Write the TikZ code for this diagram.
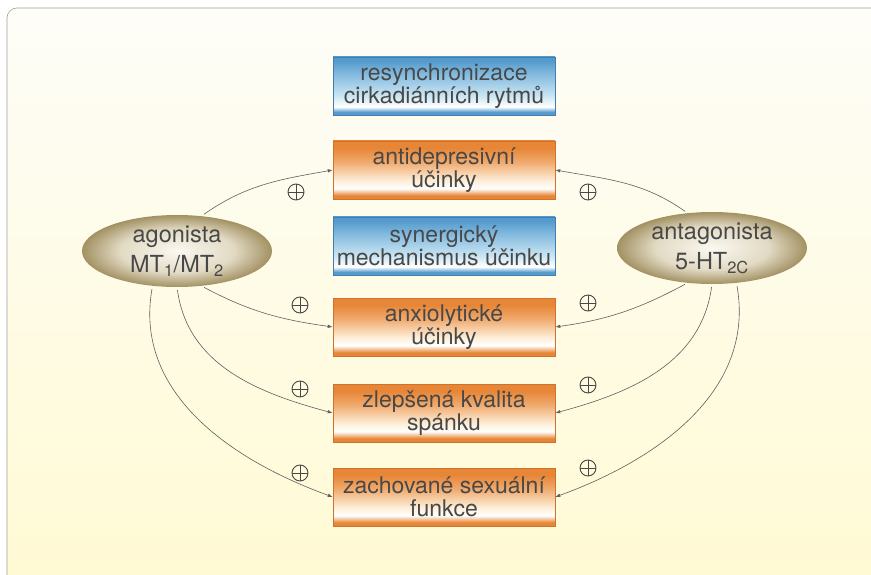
\documentclass[tikz,border=0pt]{standalone}
\usepackage{fontspec}
\setmainfont{TeX Gyre Heros}
\usetikzlibrary{arrows.meta,shapes.geometric}

\definecolor{boxorange}{RGB}{231,134,54}
\definecolor{boxorangemid}{RGB}{240,170,110}
\definecolor{boxpale}{RGB}{253,238,215}
\definecolor{orangeedge}{RGB}{205,115,45}
\definecolor{boxblue}{RGB}{84,154,204}
\definecolor{boxbluemid}{RGB}{140,192,226}
\definecolor{boxlightblue}{RGB}{200,228,242}
\definecolor{blueedge}{RGB}{65,125,175}
\definecolor{ovaldark}{RGB}{162,145,98}
\definecolor{ovalmid}{RGB}{226,218,196}
\definecolor{ovallight}{RGB}{250,248,240}
\definecolor{textgray}{RGB}{72,72,72}
\definecolor{linegray}{RGB}{95,95,95}
\definecolor{bgtop}{RGB}{254,253,248}
\definecolor{bgbottom}{RGB}{255,250,212}
\definecolor{framegray}{RGB}{160,160,160}

\pgfdeclareverticalshading{orangefill}{100bp}{color(0bp)=(boxorange); color(28bp)=(boxorange); color(34bp)=(white); color(41bp)=(boxpale); color(57bp)=(boxorangemid); color(69bp)=(boxorange); color(100bp)=(boxorange)}
\pgfdeclareverticalshading{bluefill}{100bp}{color(0bp)=(boxblue); color(27.5bp)=(boxblue); color(32bp)=(white); color(42bp)=(boxlightblue); color(58bp)=(boxbluemid); color(72bp)=(boxblue); color(100bp)=(boxblue)}
\pgfdeclareradialshading{ovalfill}{\pgfpoint{0bp}{0bp}}{color(0bp)=(ovallight); color(15bp)=(ovalmid); color(25bp)=(ovaldark); color(50bp)=(ovaldark)}

\begin{document}
\begin{tikzpicture}
        [x=1pt, y=-1pt,
        effect/.style={shade, shading=orangefill, draw=orangeedge, line width=0.5pt,
          minimum width=222pt, minimum height=58pt, inner sep=0pt, align=center,
          font=\fontsize{23}{23}\selectfont, text=textgray},
        synergy/.style={effect, shading=bluefill, draw=blueedge},
        drug/.style={ellipse, shade, shading=ovalfill, minimum width=190pt, minimum height=72pt,
          inner sep=0pt, align=center, font=\fontsize{23.5}{30}\selectfont, text=textgray},
        plus/.style={circle, draw=textgray, line width=0.9pt, minimum size=16pt, inner sep=0pt,
          path picture={\draw[textgray, line width=0.9pt]
            (path picture bounding box.north) -- (path picture bounding box.south)
            (path picture bounding box.west) -- (path picture bounding box.east);}},
        link/.style={linegray, line width=0.6pt, -{Latex[length=5pt,width=3.5pt]}, shorten <=3pt}]

        \useasboundingbox (0,0) rectangle (871,575);
        \fill[white] (0,0) rectangle (871,575);

        % background panel, only its top and left edges are in view
        \shade[top color=bgtop, bottom color=bgbottom] (7,8) rectangle (871,575);
        \draw[framegray, line width=0.6pt, rounded corners=10pt] (871,8) -- (7,8) -- (7,575);

        % boxes in the middle column
        \node[synergy] (rc) at (444,86) {resynchronizace\\cirkadiánních rytmů};
        \node[effect] (ad) at (444,170) {antidepresivní\\účinky};
        \node[synergy] (sm) at (444,246) {synergický\\mechanismus účinku};
        \node[effect] (ax) at (444,327) {anxiolytické\\účinky};
        \node[effect] (ks) at (444,413) {zlepšená kvalita\\spánku};
        \node[effect] (sf) at (444,497) {zachované sexuální\\funkce};

        % the two drug actions
        \node[drug] (mt) at (177,251) {agonista\\MT\textsubscript{1}/MT\textsubscript{2}};
        \node[drug] (ht) at (712,248) {antagonista\\5-HT\textsubscript{2C}};

        % plus signs
        \node[plus] (p1) at (296,192) {};
        \node[plus] (p2) at (300,305) {};
        \node[plus] (p3) at (300,389) {};
        \node[plus] (p4) at (300,473) {};
        \node[plus] (q1) at (588,192) {};
        \node[plus] (q2) at (588,303) {};
        \node[plus] (q3) at (588,385) {};
        \node[plus] (q4) at (588,468) {};

        % arrows from the agonist
        \draw[link] (mt.55) to[out=35, in=190] (ad.west);
        \draw[link] (mt.-55) to[out=-28, in=172] (ax.west);
        \draw[link] (mt.-90) to[out=-82, in=165] (ks.west);
        \draw[link] (mt.-125) to[out=-100, in=160] (sf.west);
        % arrows from the antagonist
        \draw[link] (ht.125) to[out=145, in=-10] (ad.east);
        \draw[link] (ht.-125) to[out=-152, in=8] (ax.east);
        \draw[link] (ht.-90) to[out=-98, in=15] (ks.east);
        \draw[link] (ht.-55) to[out=-80, in=20] (sf.east);

        \end{tikzpicture}
\end{document}
